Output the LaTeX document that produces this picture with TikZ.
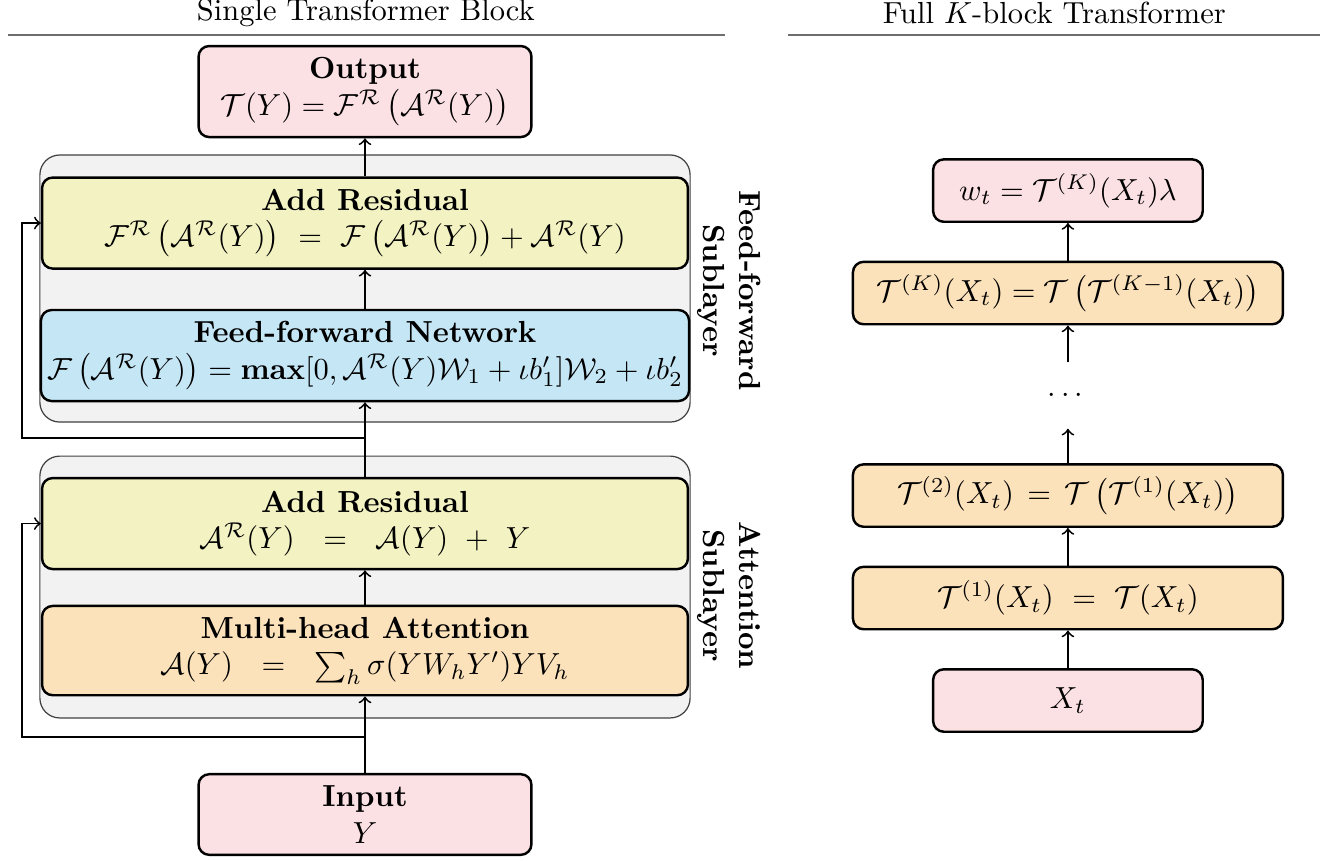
\documentclass[tikz,border=0pt]{standalone}
\usepackage{amsmath}

\definecolor{pinkbox}{RGB}{251,224,228}
\definecolor{yellowbox}{RGB}{242,242,194}
\definecolor{bluebox}{RGB}{197,230,245}
\definecolor{orangebox}{RGB}{251,226,187}
\definecolor{graybg}{RGB}{242,242,242}
\definecolor{rulecol}{RGB}{110,110,110}

\begin{document}
\begin{tikzpicture}[
        box/.style={draw, thick, rounded corners=3.5pt, align=center, inner sep=2pt},
        widebox/.style={box, minimum width=7.45cm, minimum height=1.05cm},
        smallbox/.style={box, fill=pinkbox, minimum width=3.84cm},
        tbox/.style={box, fill=orangebox, minimum width=4.96cm, minimum height=0.72cm},
        subbg/.style={draw=black!75, fill=graybg, rounded corners=6.5pt, minimum width=7.5cm},
        sidelabel/.style={rotate=-90, align=center, font=\bfseries},
        arr/.style={->, semithick}
    ]
        \useasboundingbox (0,0) rectangle (15.41,9.92);

        % titles
        \node (lefttitle) at (4.22,9.769) {Single Transformer Block};
        \node (righttitle) at (12.16,9.769) {Full $K$-block Transformer};
        \draw[rulecol, line width=0.6pt] (0.092,9.516) -- (8.36,9.516);
        \draw[rulecol, line width=0.6pt] (9.09,9.516) -- (15.22,9.516);

        % single block
        \node[subbg, minimum height=3.08cm] (ffbg) at (4.21,6.592) {};
        \node[subbg, minimum height=3.02cm] (attbg) at (4.21,3.149) {};

        \node[smallbox, minimum height=1.05cm] (output) at (4.21,8.864)
            {\textbf{Output}\\ $\mathcal{T}(Y) = \mathcal{F}^{\mathcal{R}}\left(\mathcal{A}^{\mathcal{R}}(Y)\right)$};
        \node[widebox, fill=yellowbox] (ffres) at (4.21,7.347)
            {\textbf{Add Residual}\\ $\mathcal{F}^{\mathcal{R}}\left(\mathcal{A}^{\mathcal{R}}(Y)\right) \ = \ \mathcal{F}\left(\mathcal{A}^{\mathcal{R}}(Y)\right) + \mathcal{A}^{\mathcal{R}}(Y)$};
        \node[widebox, fill=bluebox] (ffn) at (4.21,5.819)
            {\textbf{Feed-forward Network}\\ $\mathcal{F}\left(\mathcal{A}^{\mathcal{R}}(Y)\right) = \mathbf{max}[0, \mathcal{A}^{\mathcal{R}}(Y)\mathcal{W}_1 + \iota b'_1]\mathcal{W}_2 + \iota b'_2$};
        \node[widebox, fill=yellowbox] (attres) at (4.21,3.881)
            {\textbf{Add Residual}\\ $\mathcal{A}^{\mathcal{R}}(Y) \ \ = \ \ \mathcal{A}(Y) \ + \ Y$};
        \node[widebox, fill=orangebox, minimum height=1.03cm] (mha) at (4.21,2.416)
            {\textbf{Multi-head Attention}\\ $\mathcal{A}(Y) \ \ = \ \ \sum_h \sigma(Y W_h Y')Y V_h$};
        \node[smallbox, minimum height=0.93cm] (input) at (4.21,0.525)
            {\textbf{Input}\\ $Y$};

        \node[sidelabel] (fflabel) at (8.41,6.57) {Feed-forward\\Sublayer};
        \node[sidelabel] (attlabel) at (8.41,3.05) {Attention\\Sublayer};

        \draw[arr] (input) -- (mha);
        \draw[arr] (mha) -- (attres);
        \draw[arr] (attres) -- (ffn);
        \draw[arr] (ffn) -- (ffres);
        \draw[arr] (ffres) -- (output);

        % residual skips
        \coordinate (split1) at (4.21,1.419);
        \coordinate (skip1) at (0.254,1.419);
        \coordinate (split2) at (4.21,4.867);
        \coordinate (skip2) at (0.254,4.867);
        \draw[arr] (split1) -- (skip1) |- (attres.west);
        \draw[arr] (split2) -- (skip2) |- (ffres.west);

        % full K-block
        \node[box, fill=pinkbox, minimum width=3.11cm, minimum height=0.72cm] (wt) at (12.318,7.722)
            {$w_t = \mathcal{T}^{(K)}(X_t)\lambda$};
        \node[tbox] (tK) at (12.318,6.540)
            {$\mathcal{T}^{(K)}(X_t) = \mathcal{T}\left(\mathcal{T}^{(K-1)}(X_t)\right)$};
        \node[minimum height=0.75cm] (dots) at (12.318,5.357) {$\cdots$};
        \node[tbox] (t2) at (12.318,4.204)
            {$\mathcal{T}^{(2)}(X_t) \,=\, \mathcal{T}\left(\mathcal{T}^{(1)}(X_t)\right)$};
        \node[tbox] (t1) at (12.318,3.022)
            {$\mathcal{T}^{(1)}(X_t) \ = \ \mathcal{T}(X_t)$};
        \node[box, fill=pinkbox, minimum width=3.11cm, minimum height=0.72cm] (xt) at (12.318,1.840)
            {$X_t$};

        \draw[arr] (xt) -- (t1);
        \draw[arr] (t1) -- (t2);
        \draw[arr] (t2) -- (dots);
        \draw[arr] (dots) -- (tK);
        \draw[arr] (tK) -- (wt);
    \end{tikzpicture}
\end{document}
